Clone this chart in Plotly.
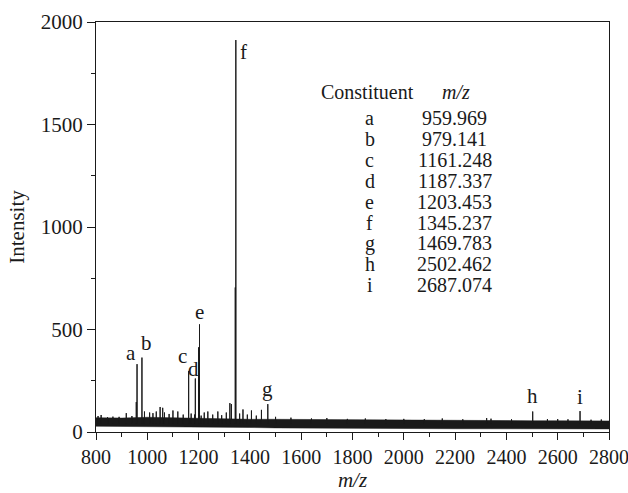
import plotly.graph_objects as go

# ---- data ----
# labelled peaks
peak_labels = ["a", "b", "c", "d", "e", "f", "g", "h", "i"]
peak_table_mz = ["959.969", "979.141", "1161.248", "1187.337", "1203.453",
                 "1345.237", "1469.783", "2502.462", "2687.074"]
peak_mz = [960.0, 979.1, 1161.2, 1187.3, 1203.5, 1345.2, 1469.8, 2502.5, 2687.1]
peak_int = [331, 363, 298, 261, 525, 1912, 136, 100, 102]

# unlabelled small peaks / shoulders
minor_mz = [808, 820, 845, 866, 890, 918, 940, 957, 989, 1009, 1022, 1035, 1050,
            1060, 1067, 1085, 1100, 1119, 1140, 1171, 1184, 1200, 1210, 1222,
            1236, 1255, 1275, 1290, 1308, 1322, 1328, 1343, 1360, 1373, 1390,
            1406, 1425, 1445, 1500, 1560, 1640, 1700, 1780, 1850, 1930, 2000,
            2080, 2150, 2230, 2323, 2340, 2420, 2560, 2600, 2640, 2730, 2770]
minor_int = [78, 83, 72, 75, 74, 92, 78, 146, 100, 95, 92, 100, 122,
             118, 95, 88, 105, 100, 85, 90, 85, 413, 80, 95,
             100, 85, 100, 82, 95, 141, 136, 705, 90, 110, 85,
             105, 80, 108, 74, 70, 66, 68, 64, 66, 63, 64,
             63, 66, 62, 68, 65, 62, 63, 63, 62, 60, 61]

# noise band envelope of the baseline
band_mz = [800, 900, 1000, 1100, 1200, 1300, 1400, 1500, 1600, 1700, 1800,
           1900, 2000, 2100, 2200, 2300, 2400, 2500, 2600, 2700, 2800]
band_lo = [28, 27, 29, 27, 27, 26, 22, 20, 19, 19, 18, 18, 17, 17, 16, 16,
           16, 15, 15, 15, 15]
band_hi = [70, 68, 72, 69, 68, 66, 62, 62, 61, 60, 60, 59, 58, 57, 57, 56,
           56, 55, 55, 54, 54]
baseline = 42

x_ticks = [800, 1000, 1200, 1400, 1600, 1800, 2000, 2200, 2400, 2600, 2800]
y_ticks = [0, 500, 1000, 1500, 2000]

FONT = "Liberation Serif"
FS = 21
TFS = 20
INK = "#1a1a1a"

fig = go.Figure()

# baseline noise band
fig.add_trace(go.Scatter(x=band_mz, y=band_lo, mode="lines",
                         line=dict(color=INK, width=0.5), showlegend=False,
                         hoverinfo="skip"))
fig.add_trace(go.Scatter(x=band_mz, y=band_hi, mode="lines", fill="tonexty",
                         fillcolor=INK, line=dict(color=INK, width=0.5),
                         showlegend=False, hoverinfo="skip"))

# spikes
all_peaks = sorted(list(zip(peak_mz, peak_int)) + list(zip(minor_mz, minor_int)))
sx, sy = [], []
for m, h in all_peaks:
    sx += [m, m, m, None]
    sy += [baseline, h, baseline, None]
fig.add_trace(go.Scatter(x=sx, y=sy, mode="lines",
                         line=dict(color=INK, width=1), showlegend=False,
                         connectgaps=False, hoverinfo="skip"))

# peak labels
label_shift = {"a": (-6, 11), "b": (5, 15), "c": (-6, 15), "d": (-2, 10),
               "e": (0, 12), "f": (8, -12), "g": (0, 15), "h": (0, 16),
               "i": (0, 14)}
for lab, m, h in zip(peak_labels, peak_mz, peak_int):
    dx, dy = label_shift[lab]
    fig.add_annotation(x=m, y=h, text=lab, showarrow=False, xref="x", yref="y",
                       xshift=dx, yshift=dy, xanchor="center", yanchor="middle",
                       font=dict(family=FONT, size=FS, color=INK))

# table
def px2paper(px, py):
    return (px - 96.5) / 512.5, (432 - py) / 410

def table_text(px, py, text):
    x, y = px2paper(px, py)
    fig.add_annotation(x=x, y=y, xref="paper", yref="paper", text=text,
                       showarrow=False, xanchor="center", yanchor="middle",
                       font=dict(family=FONT, size=TFS, color=INK))

table_text(368, 92, "Constituent")
table_text(456, 92, "<i>m/z</i>")
for i, (lab, val) in enumerate(zip(peak_labels, peak_table_mz)):
    py = 118 + i * 20.9
    table_text(370, py, lab)
    table_text(455, py, val)

fig.update_layout(
    width=628, height=493,
    margin=dict(l=96, r=19, t=22, b=61),
    paper_bgcolor="white", plot_bgcolor="white",
    font=dict(family=FONT, size=FS, color=INK),
    showlegend=False,
)
fig.update_xaxes(range=[800, 2800], tickvals=x_ticks, ticks="outside",
                 ticklen=7, tickwidth=1.2, tickcolor=INK, automargin=False,
                 ticklabeloverflow="allow", tickfont=dict(size=20),
                 minor=dict(dtick=100, ticks="outside", ticklen=4, tickcolor=INK, tickwidth=1.2),
                 showline=True, linecolor=INK, linewidth=1.2, mirror=True,
                 showgrid=False, zeroline=False,
                 title=dict(text="<i>m/z</i>", standoff=4, font=dict(size=FS)))
fig.update_yaxes(range=[0, 2000], tickvals=y_ticks, ticks="outside",
                 ticklen=8, tickwidth=1.2, tickcolor=INK, automargin=False,
                 ticklabeloverflow="allow",
                 minor=dict(dtick=250, ticks="outside", ticklen=4, tickcolor=INK, tickwidth=1.2),
                 showline=True, linecolor=INK, linewidth=1.2, mirror=True,
                 showgrid=False, zeroline=False,
                 title=dict(text="Intensity", standoff=10, font=dict(size=FS)))

fig.write_html("out.html", config={"displayModeBar": False},
               post_script="document.body.style.margin='0px';")
